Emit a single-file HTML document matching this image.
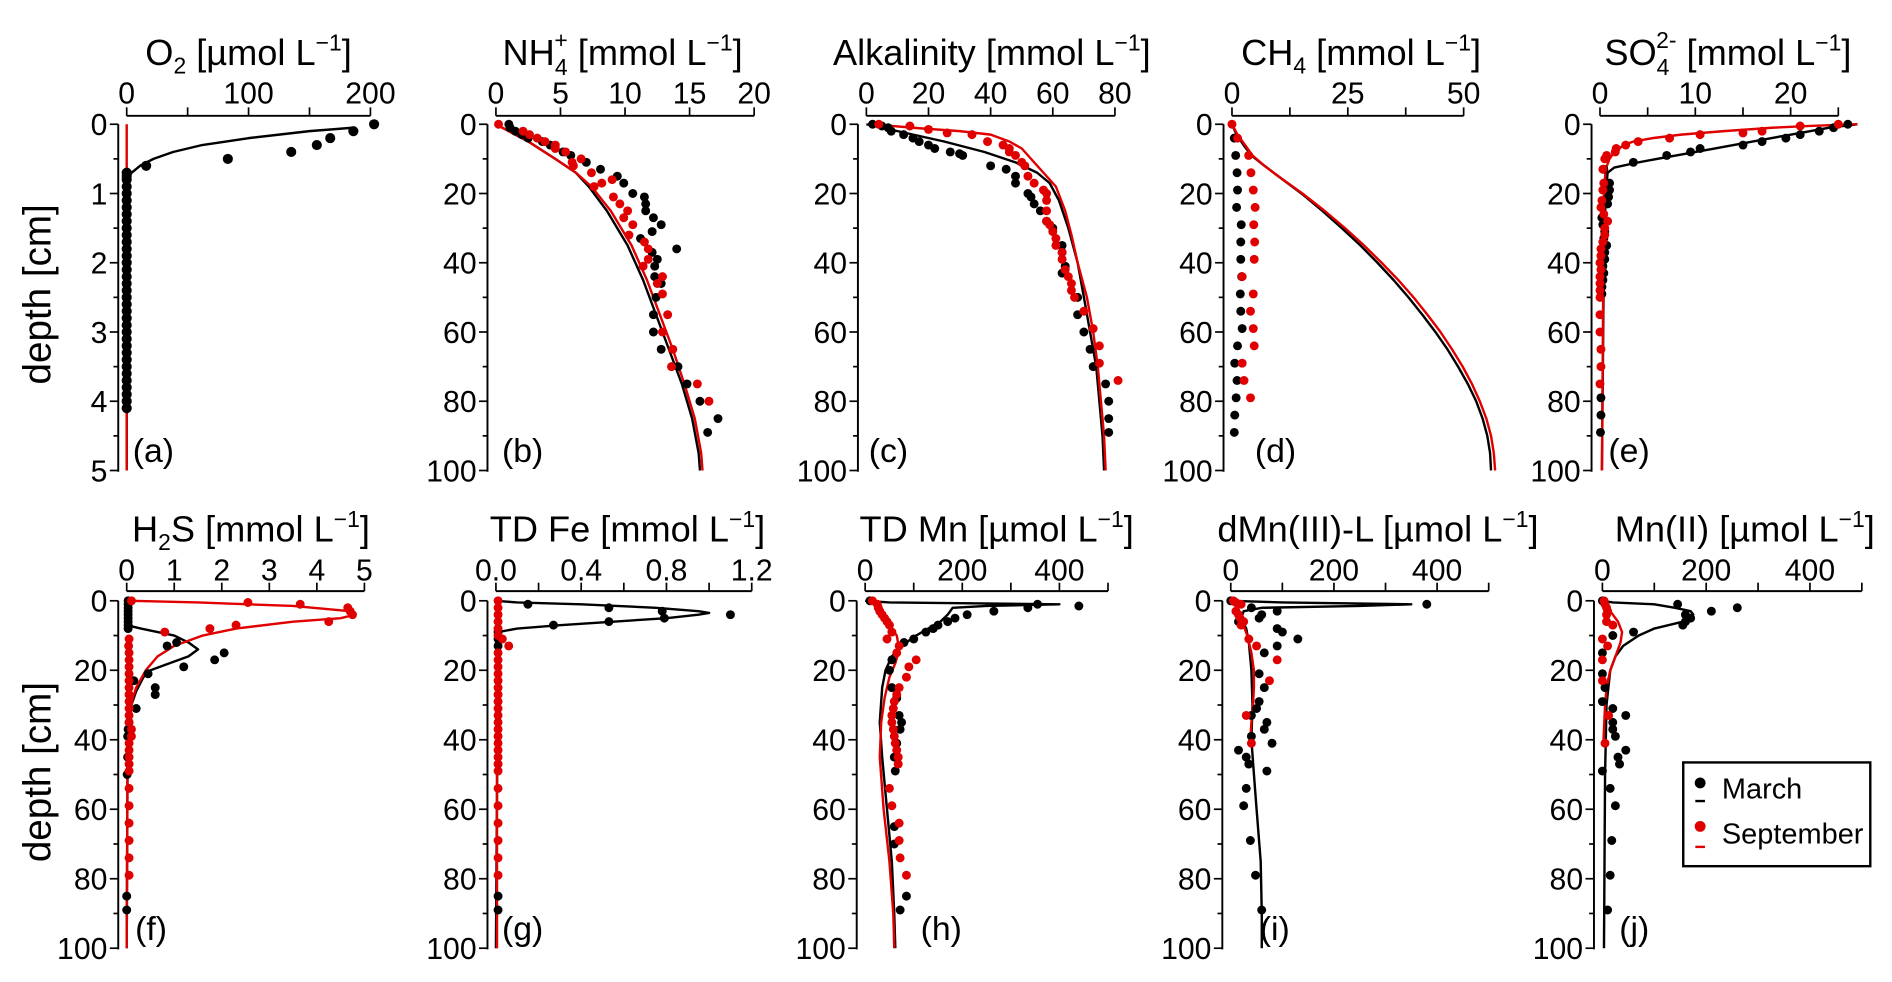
<!DOCTYPE html>
<html><head><meta charset="utf-8"><style>
html,body{margin:0;padding:0;background:#fff;}
svg{display:block;font-family:"Liberation Sans",sans-serif;}
</style></head><body>
<svg id="fig" width="1892" height="982" viewBox="0 0 1568 814" preserveAspectRatio="none" xmlns="http://www.w3.org/2000/svg">
<rect width="1568" height="814" fill="#fff"/>
<g id="titles" font-size="30" text-anchor="middle" fill="#000">
<text x="206" y="54">O<tspan font-size="19" dy="7">2</tspan><tspan dy="-7"> [µmol L</tspan><tspan font-size="19" dy="-12">−1</tspan><tspan dy="12">]</tspan></text>
<text x="516" y="54">NH<tspan font-size="19" dy="8">4</tspan><tspan font-size="19" dx="-11" dy="-22">+</tspan><tspan dy="14"> [mmol L</tspan><tspan font-size="19" dy="-12">−1</tspan><tspan dy="12">]</tspan></text>
<text x="822" y="54">Alkalinity [mmol L<tspan font-size="19" dy="-12">−1</tspan><tspan dy="12">]</tspan></text>
<text x="1128" y="54">CH<tspan font-size="19" dy="7">4</tspan><tspan dy="-7"> [mmol L</tspan><tspan font-size="19" dy="-12">−1</tspan><tspan dy="12">]</tspan></text>
<text x="1432" y="54">SO<tspan font-size="19" dy="8">4</tspan><tspan font-size="19" dx="-11" dy="-22">2-</tspan><tspan dy="14"> [mmol L</tspan><tspan font-size="19" dy="-12">−1</tspan><tspan dy="12">]</tspan></text>
<text x="208" y="449">H<tspan font-size="19" dy="7">2</tspan><tspan dy="-7">S [mmol L</tspan><tspan font-size="19" dy="-12">−1</tspan><tspan dy="12">]</tspan></text>
<text x="520" y="449">TD Fe [mmol L<tspan font-size="19" dy="-12">−1</tspan><tspan dy="12">]</tspan></text>
<text x="826" y="449">TD Mn [µmol L<tspan font-size="19" dy="-12">−1</tspan><tspan dy="12">]</tspan></text>
<text x="1142" y="449">dMn(III)-L [µmol L<tspan font-size="19" dy="-12">−1</tspan><tspan dy="12">]</tspan></text>
<text x="1446" y="449">Mn(II) [µmol L<tspan font-size="19" dy="-12">−1</tspan><tspan dy="12">]</tspan></text>
</g>
<text font-size="32" text-anchor="middle" transform="translate(42,244) rotate(-90)">depth [cm]</text>
<text font-size="32" text-anchor="middle" transform="translate(42,640) rotate(-90)">depth [cm]</text>
<g id="plots"></g>
<g>
<rect x="1395" y="632" width="155" height="86" fill="#fff" stroke="#000" stroke-width="2"/>
<circle cx="1409" cy="649" r="4.5" fill="#000"/>
<line x1="1405" y1="664" x2="1413" y2="664" stroke="#000" stroke-width="2"/>
<text x="1427" y="662" font-size="24">March</text>
<circle cx="1409" cy="685" r="4.5" fill="#e00000"/>
<line x1="1405" y1="702" x2="1413" y2="702" stroke="#e00000" stroke-width="2"/>
<text x="1427" y="699" font-size="24">September</text>
</g>
</svg>
<script>
// ---- data: [depth, value] ----
const aMarchPts=[[0,203],[0.1,186],[0.2,167],[0.3,156],[0.4,135],[0.5,83],[0.6,16],[0.7,0],[0.75,0],[0.8,0],[0.9,0],[1.0,0],[1.1,0],[1.2,0],[1.3,0],[1.4,0],[1.5,0],[1.6,0],[1.7,0],[1.8,0],[1.9,0],[2.0,0],[2.1,0],[2.2,0],[2.3,0],[2.4,0],[2.5,0],[2.6,0],[2.7,0],[2.8,0],[2.9,0],[3.0,0],[3.1,0],[3.2,0],[3.3,0],[3.4,0],[3.5,0],[3.6,0],[3.7,0],[3.8,0],[3.9,0],[4.0,0],[4.1,0]];
const aSeptPts=[];
const aMarchLine=[[0.05,185],[0.1,150],[0.2,100],[0.3,62],[0.4,38],[0.5,22],[0.6,11],[0.7,4],[0.8,1],[0.9,0],[5,0]];
const aSeptLine=[[0,0],[5,0]];

const bMarchPts=[[0,1.0],[1,1.1],[2,1.5],[3,2],[4,2.5],[5,3.6],[6,4.2],[8,5.2],[9,5.8],[11,7.0],[13,8.1],[15,9.4],[17,9.9],[20,10.6],[21,11.5],[23,11.6],[25,11.6],[27,12.2],[29,12.8],[31,12.1],[33,11.2],[36,14.0],[37,12.1],[39,12.5],[41,12.3],[44,12.3],[46,12.8],[50,12.4],[55,12.2],[60,12.2],[65,12.8],[70,14.1],[75,14.8],[80,15.8],[85,17.2],[89,16.4]];
const bSeptPts=[[0,0.2],[2,2.1],[3,2.6],[4,3.2],[5,3.8],[6,4.6],[7,4.6],[8,5.4],[10,6.6],[11,5.9],[12,6.0],[14,7.4],[17,8.2],[16,9.0],[18,7.6],[21,9.1],[23,9.6],[25,10.2],[27,9.9],[29,10.6],[32,10.3],[34,11.5],[36,11.8],[39,11.8],[41,11.4],[44,12.9],[46,12.5],[49,12.9],[55,13.3],[60,12.9],[65,13.7],[70,13.6],[75,15.6],[80,16.5]];
const bMarchLine=[[0,0],[5,2.5],[10,4.6],[14,6.2],[18,7.2],[25,8.6],[35,10.2],[45,11.4],[55,12.4],[65,13.4],[75,14.4],[85,15.2],[95,15.7],[100,15.8]];
const bSeptLine=[[0,0],[5,2.5],[10,4.6],[14,6.2],[18,7.4],[25,8.9],[35,10.5],[45,11.7],[55,12.7],[65,13.7],[75,14.6],[85,15.4],[95,15.9],[100,16.0]];

const cMarchPts=[[0,2],[0.5,5],[1,7],[2,8],[3,12],[4,15],[5,17],[6,20],[7,22],[8,27],[8.5,30],[9,31],[12,40],[13,45],[15,48],[17,48],[20,52],[21,53],[23,54],[25,56],[28,58],[30,60],[35,63],[37,63],[41,64],[43,63],[50,68],[55,68],[60,70],[65,72],[70,73],[75,77],[80,78],[85,78],[89,78]];
const cSeptPts=[[0,4],[0.5,14],[1.5,20],[2.5,26],[3,34],[5,39],[6,44],[7,46],[8,46],[9,48],[11,50],[12,51],[15,52],[17,54],[19,57],[20,58],[22,58],[25,58],[28,58],[29,59],[31,60],[33,61],[35,61],[37,63],[39,63],[42,64],[44,65],[46,66],[48,66],[50,67],[54,70],[59,73],[64,75],[69,75],[74,81]];
const cMarchLine=[[0,0],[2,10],[5,25],[8,38],[11,48],[14,55],[17,59],[22,62],[30,65],[40,68],[50,70],[60,72],[70,74],[80,75],[90,76],[100,76.5]];
const cSeptLine=[[0,2],[1,15],[2,30],[3,40],[5,46],[7,50],[10,53],[14,57],[18,61],[25,64],[32,66],[40,68],[50,71],[60,73],[70,74.5],[80,75.5],[90,76.5],[100,77]];

const dMarchPts=[[4,0.5],[9,0.8],[14,1.1],[19,1.2],[24,1.0],[29,2.0],[34,1.9],[39,1.9],[44,2.1],[49,1.8],[54,1.9],[59,2.2],[64,1.2],[69,0.6],[74,1.1],[79,0.9],[84,0.6],[89,0.5]];
const dSeptPts=[[0,0],[4,1.2],[9,3.6],[14,4.1],[19,4.6],[24,5.0],[29,4.7],[34,4.9],[39,4.8],[44,2.2],[49,4.6],[54,4.0],[59,4.6],[64,4.8],[69,2.2],[74,2.6],[79,4.0]];
const dMarchLine=[[0,0],[3,1],[6,2.5],[9,4.2],[12,7],[15,10],[20,15],[25,19.5],[30,23.7],[35,27.7],[40,31.4],[45,34.9],[50,38.1],[55,41.1],[60,43.9],[65,46.5],[70,48.8],[75,50.9],[80,52.7],[85,54.1],[90,55.1],[95,55.7],[100,55.9]];
const dSeptLine=[[0,0],[3,1.2],[6,2.8],[9,4.4],[12,7],[15,10],[20,15.2],[25,20],[30,24.4],[35,28.5],[40,32.3],[45,35.9],[50,39.2],[55,42.2],[60,45],[65,47.5],[70,49.8],[75,51.8],[80,53.5],[85,54.9],[90,55.9],[95,56.5],[100,56.8]];

const eMarchPts=[[0,26],[1,24.5],[2,23],[3,21],[4,19.5],[5,17],[6,15],[7,10.5],[8,9.5],[9,7],[11,3.5],[13,0.4],[17,1.0],[19,1.0],[21,0.9],[23,0.8],[27,0.2],[29,0.3],[31,0.5],[33,0.4],[35,0.7],[37,0.5],[39,0.5],[41,0.3],[43,0.4],[45,0.3],[47,0.2],[49,0.2],[79,0.1],[84,0.1],[89,0.05]];
const eSeptPts=[[0,25],[0.5,21],[2,17],[2.5,15],[3,10.5],[4,7.3],[5,4],[6,2.7],[7,1.7],[8,1.6],[9,0.7],[10,0.5],[13,0.3],[17,0.4],[19,0.3],[22,0.2],[24,0.1],[26,0.4],[28,0.8],[30,0.5],[32,0.5],[34,0.3],[36,0.1],[38,0.1],[40,0],[42,0.1],[44,0],[46,0],[48,0],[50,0],[55,0],[60,0],[65,0.1],[70,0.1],[75,0]];
const eMarchLine=[[0,27],[1,24],[3,20],[5,16],[7,12],[9,8],[11,4],[12.5,1.5],[14,0.8],[20,0.6],[40,0.4],[100,0.2]];
const eSeptLine=[[0,27],[0.5,22],[1,18],[2,13],[3,8.5],[4,5.5],[5,3.5],[6,2.5],[8,1.5],[10,1.0],[13,0.6],[20,0.4],[100,0.2]];

const fMarchPts=[[0,0.03],[1,0.03],[2,0.03],[3,0.03],[4,0.03],[5,0.03],[6,0.03],[7,0.03],[8,0.03],[12,1.05],[13,0.85],[15,2.05],[17,1.85],[19,1.2],[21,0.45],[23,0.15],[25,0.6],[27,0.6],[31,0.2],[35,0.05],[37,0.03],[39,0.02],[45,0.02],[50,0.01],[85,0],[89,0]];
const fSeptPts=[[0,0.1],[0.5,2.55],[1,3.65],[2,4.65],[3,4.7],[4,4.75],[6,4.25],[7,2.3],[8,1.75],[9,0.8],[11,0.05],[13,0.04],[15,0.05],[17,0.05],[19,0.05],[21,0.05],[23,0.05],[25,0.05],[27,0.05],[29,0.05],[31,0.05],[33,0.05],[35,0.05],[37,0.1],[39,0.1],[41,0.05],[43,0.05],[45,0.05],[47,0.05],[49,0.05],[54,0.05],[59,0.05],[64,0.05],[69,0.05],[74,0.05],[79,0.05]];
const fMarchLine=[[0,0],[7,0],[8,0.3],[10,1.0],[12,1.3],[14,1.5],[16,1.3],[18,0.9],[20,0.5],[22,0.35],[26,0.2],[30,0.1],[40,0.02],[100,0]];
const fSeptLine=[[0,0.1],[0.5,1.5],[1.5,3.5],[3,4.7],[4,4.8],[5,4.5],[6,3.5],[8,2.3],[10,1.6],[13,1.0],[16,0.65],[20,0.4],[25,0.2],[30,0.08],[40,0.02],[100,0]];

const gMarchPts=[[1,0.15],[2,0.53],[3,0.78],[4,1.1],[5,0.79],[6,0.53],[7,0.27],[9,0.01],[11,0.01],[13,0.01],[85,0.01],[89,0.01]];
const gSeptPts=[[0,0.01],[2,0.01],[4,0.01],[6,0.01],[8,0.01],[10,0.01],[11,0.03],[13,0.06],[15,0.01],[17,0.01],[19,0.01],[21,0.01],[23,0.01],[25,0.01],[27,0.01],[29,0.01],[31,0.01],[33,0.01],[35,0.01],[37,0.01],[39,0.01],[41,0.01],[43,0.01],[45,0.01],[47,0.01],[49,0.01],[54,0.01],[59,0.01],[64,0.01],[69,0.01],[74,0.01],[79,0.01]];
const gMarchLine=[[0,0],[0.5,0.1],[1,0.4],[2,0.75],[3,0.95],[3.5,1.0],[4,0.95],[5,0.8],[6,0.55],[7,0.3],[8,0.1],[9,0.01],[100,0]];
const gSeptLine=[[0,0.005],[100,0.005]];

const hMarchPts=[[0,10],[1,355],[1.5,440],[2,335],[3,265],[4,210],[5,185],[6,170],[7,150],[8,140],[9,125],[11,100],[12,80],[17,55],[20,50],[25,55],[28,65],[33,70],[35,75],[37,72],[41,65],[45,60],[49,62],[65,60],[70,60],[85,85],[89,72]];
const hSeptPts=[[0,15],[1,25],[2,27],[3,30],[4,35],[5,40],[6,45],[7,50],[9,55],[11,45],[13,70],[15,65],[17,105],[19,90],[22,85],[25,70],[27,65],[29,60],[31,58],[33,55],[35,55],[37,58],[39,60],[41,62],[43,65],[45,68],[47,68],[54,50],[59,55],[64,70],[69,70],[74,72],[79,85]];
const hMarchLine=[[0,0],[0.5,50],[1,400],[1.5,250],[2,180],[4,170],[6,155],[8,130],[10,105],[13,75],[16,55],[20,42],[25,35],[35,30],[45,35],[60,45],[75,55],[90,60],[100,62]];
const hSeptLine=[[0,15],[3,30],[6,45],[10,65],[14,70],[18,62],[22,50],[28,40],[35,33],[45,30],[60,38],[75,50],[90,58],[100,60]];

const iMarchPts=[[0,0],[1,380],[2,40],[3,90],[4,60],[5,55],[6,15],[8,90],[9,100],[11,130],[13,90],[15,65],[21,55],[25,65],[29,55],[31,50],[33,40],[35,70],[37,65],[39,40],[41,80],[43,15],[45,30],[47,35],[49,70],[54,30],[59,25],[69,38],[79,48],[89,60]];
const iSeptPts=[[0,5],[0.5,10],[1,20],[3,10],[4,15],[5,18],[6,25],[7,20],[11,35],[13,50],[17,90],[23,75],[33,30],[41,40]];
const iMarchLine=[[0,0],[0.5,100],[1,350],[1.5,250],[2,60],[3,25],[5,20],[8,30],[12,35],[20,40],[30,42],[40,40],[50,45],[60,50],[75,58],[90,60],[100,60]];
const iSeptLine=[[0,5],[3,15],[6,22],[10,32],[15,40],[20,45],[25,45],[30,43],[35,40],[40,38]];

const jMarchPts=[[0,0],[1,145],[2,260],[3,210],[4,160],[5,170],[6,160],[7,155],[9,60],[10,20],[15,0],[21,0],[25,5],[29,0],[31,20],[33,45],[35,20],[37,20],[39,25],[43,45],[45,30],[47,33],[49,0],[54,15],[59,25],[69,18],[79,15],[89,10]];
const jSeptPts=[[0,3],[1,5],[2,8],[3,10],[4,8],[6,8],[7,20],[11,0],[13,10],[17,0],[23,0],[33,12],[41,5]];
const jMarchLine=[[0,0],[0.5,20],[1,100],[2,140],[3,170],[4,175],[5,170],[6,155],[8,100],[10,70],[13,40],[16,25],[20,15],[30,8],[50,5],[100,3]];
const jSeptLine=[[0,3],[3,15],[6,30],[9,38],[12,35],[16,25],[20,15],[25,8],[30,5],[40,2]];

// tick label arrays
const ticksA=['0','100','200'];
const ticksB=['0','5','10','15','20'];
const ticksC=['0','20','40','60','80'];
const ticksD=['0','25','50'];
const ticksE=['0','10','20'];
const ticksF=['0','1','2','3','4','5'];
const ticksG=['0.0','0.4','0.8','1.2'];
const ticksH=['0','200','400'];
const ticksYa=['0','1','2','3','4','5'];
const ticksYd=['0','20','40','60','80','100'];

// ---- layout ----
const TOP={ax:96,y0:103,y1:390,lab:86,pl:383};
const BOT={ax:490,y0:498,y1:786,lab:481,pl:779};
const panels=[
 {id:'a',row:TOP,x0:105,x1:307,xmax:200,axmax:200,minor:50,ticks:ticksA,ymax:5,yt:ticksYa,yminor:0.5,m:aMarchPts,s:aSeptPts,ml:aMarchLine,sl:aSeptLine,r:4.2,lo:5},
 {id:'b',row:TOP,x0:411,x1:625,xmax:20,axmax:20,minor:5,ticks:ticksB,ymax:100,yt:ticksYd,yminor:10,m:bMarchPts,s:bSeptPts,ml:bMarchLine,sl:bSeptLine,lo:5},
 {id:'c',row:TOP,x0:718,x1:924,xmax:80,axmax:80,minor:20,ticks:ticksC,ymax:100,yt:ticksYd,yminor:10,m:cMarchPts,s:cSeptPts,ml:cMarchLine,sl:cSeptLine,lo:2},
 {id:'d',row:TOP,x0:1021,x1:1213,xmax:50,axmax:50,minor:12.5,ticks:ticksD,ymax:100,yt:ticksYd,yminor:10,m:dMarchPts,s:dSeptPts,ml:dMarchLine,sl:dSeptLine,lo:19},
 {id:'e',row:TOP,x0:1326,x1:1405,xmax:10,axmax:25,minor:5,ticks:ticksE,ymax:100,yt:ticksYd,yminor:10,m:eMarchPts,s:eSeptPts,ml:eMarchLine,sl:eSeptLine,lo:7},
 {id:'f',row:BOT,x0:105,x1:302,xmax:5,axmax:5,minor:1,ticks:ticksF,ymax:100,yt:ticksYd,yminor:10,m:fMarchPts,s:fSeptPts,ml:fMarchLine,sl:fSeptLine,lo:7},
 {id:'g',row:BOT,x0:411,x1:623,xmax:1.2,axmax:1.2,minor:0.2,ticks:ticksG,ymax:100,yt:ticksYd,yminor:10,m:gMarchPts,s:gSeptPts,ml:gMarchLine,sl:gSeptLine,lo:5},
 {id:'h',row:BOT,x0:717,x1:878,xmax:400,axmax:500,minor:100,ticks:ticksH,ymax:100,yt:ticksYd,yminor:10,m:hMarchPts,s:hSeptPts,ml:hMarchLine,sl:hSeptLine,lo:46},
 {id:'i',row:BOT,x0:1020,x1:1191,xmax:400,axmax:500,minor:100,ticks:ticksH,ymax:100,yt:ticksYd,yminor:10,m:iMarchPts,s:iSeptPts,ml:iMarchLine,sl:iSeptLine,lo:24},
 {id:'j',row:BOT,x0:1328,x1:1500,xmax:400,axmax:500,minor:100,ticks:ticksH,ymax:100,yt:ticksYd,yminor:10,m:jMarchPts,s:jSeptPts,ml:jMarchLine,sl:jSeptLine,lo:14}
];
const NS='http://www.w3.org/2000/svg';
const root=document.getElementById('plots');
function mk(tag,attrs,parent){const e=document.createElementNS(NS,tag);for(const k in attrs)e.setAttribute(k,attrs[k]);(parent||root).appendChild(e);return e;}
function xs(p,v){return p.x0+v*(p.x1-p.x0)/p.xmax;}
function ys(p,d){return p.row.y0+d*(p.row.y1-p.row.y0)/p.ymax;}
panels.forEach(p=>{
  const g=mk('g',{});
  
  
  const R=p.row, yax=p.x0-7, xend=xs(p,p.axmax);
  const xa=mk('line',{x1:p.x0,y1:R.ax,x2:xend,y2:R.ax,stroke:'#000','stroke-width':1.6},g);
  
  
  for(let k=0;k*p.minor<=p.axmax+1e-9;k++){
    const v=k*p.minor;
    mk('line',{x1:xs(p,v),y1:R.ax,x2:xs(p,v),y2:R.ax-7,stroke:'#000','stroke-width':1.4},g);
  }
  p.ticks.forEach(t=>{
    const tl=mk('text',{x:xs(p,parseFloat(t)),y:R.lab,'font-size':25,'text-anchor':'middle'},g);
    tl.textContent=t;
    
    
  });
  const ya=mk('line',{x1:yax,y1:R.y0,x2:yax,y2:R.y1+1,stroke:'#000','stroke-width':1.6},g);
  
  
  for(let k=0;k*p.yminor<=p.ymax+1e-9;k++){
    const d=k*p.yminor, major=(k%2===0);
    mk('line',{x1:yax,y1:ys(p,d),x2:yax-(major?7:4),y2:ys(p,d),stroke:'#000','stroke-width':1.4},g);
  }
  p.yt.forEach(t=>{
    const tl=mk('text',{x:yax-9,y:ys(p,parseFloat(t))+9,'font-size':25,'text-anchor':'end'},g);
    tl.textContent=t;
    
    
  });
  [[p.ml,'#000','march'],[p.sl,'#e00000','september']].forEach(([arr,col,nm])=>{
    const pts=arr.map(q=>xs(p,q[1]).toFixed(1)+','+ys(p,q[0]).toFixed(1)).join(' ');
    const pl=mk('polyline',{points:pts,fill:'none',stroke:col,'stroke-width':2,'stroke-linejoin':'round'},g);
    
    
  });
  [[p.m,'#000','march'],[p.s,'#e00000','september']].forEach(([arr,col,nm])=>{
    arr.forEach(q=>{
      const c=mk('circle',{cx:xs(p,q[1]),cy:ys(p,q[0]),r:p.r||3.7,fill:col},g);
      
      
    });
  });
  const lab=mk('text',{x:p.x0+p.lo,y:R.pl,'font-size':28},g);
  lab.textContent='('+p.id+')';
  
  
});
</script>
</body></html>
